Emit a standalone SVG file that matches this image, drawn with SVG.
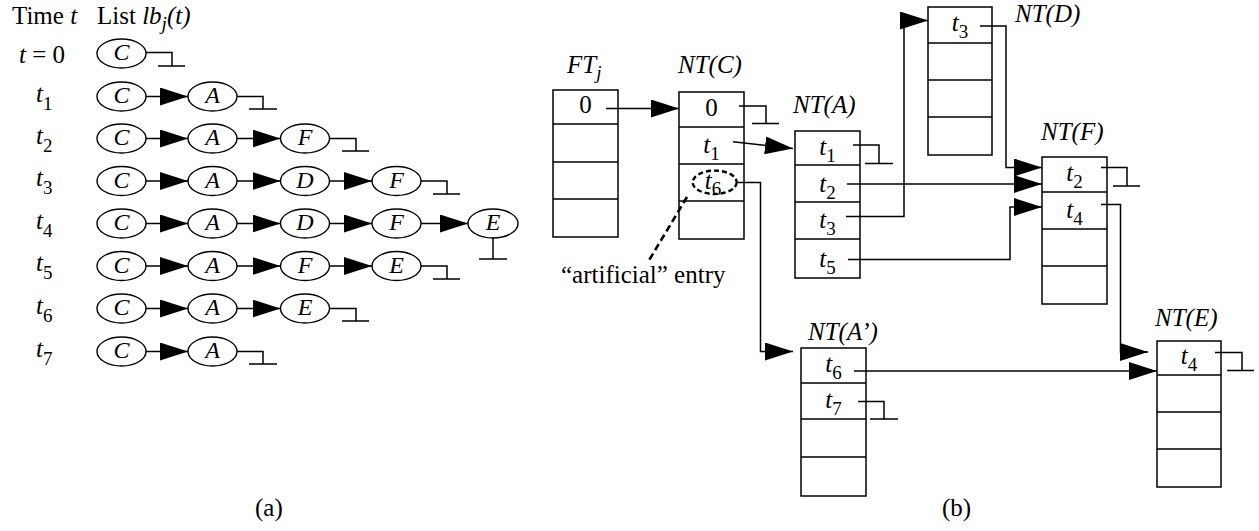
<svg xmlns="http://www.w3.org/2000/svg" width="1259" height="531" viewBox="0 0 1259 531">
<defs>
<style>
.t{font-family:"Liberation Serif","Times New Roman",serif;font-size:25px;fill:#000}
.i{font-style:italic}
.s{font-size:19px}
.m{text-anchor:middle}
.n{font-family:"Liberation Serif","Times New Roman",serif;font-size:24px;font-style:italic;text-anchor:middle;fill:#000}
.e{fill:#fff;stroke:#000;stroke-width:1.4}
.b{fill:#fff;stroke:#000;stroke-width:1.5}
.c{fill:none;stroke:#000;stroke-width:1.5}
.a{fill:none;stroke:#000;stroke-width:1.5;marker-end:url(#ah)}
.d{fill:none;stroke:#000;stroke-width:2.6;stroke-dasharray:7 4}
.de{fill:none;stroke:#000;stroke-width:2.4;stroke-dasharray:5 3}
</style>
<marker id="ah" markerUnits="userSpaceOnUse" markerWidth="30" markerHeight="20" refX="28" refY="9" orient="auto"><path d="M0,0 L28,9 L0,18 z" fill="#000"/></marker>
</defs>
<rect x="0" y="0" width="1259" height="531" fill="#fff"/>

<!-- (a) header and row labels -->
<g id="a-header">
<text class="t" x="12" y="24">Time <tspan class="i">t</tspan></text>
<text class="t" x="97" y="24">List <tspan class="i">lb</tspan><tspan class="i s" dy="6">j</tspan><tspan class="i" dy="-6">(t)</tspan></text>
</g>
<g id="a-rowlabels">
<text class="t" x="19" y="62.5"><tspan class="i">t</tspan> = 0</text>
<text class="t" x="36" y="101.5"><tspan class="i">t</tspan><tspan class="s" dy="8">1</tspan></text>
<text class="t" x="36" y="143.5"><tspan class="i">t</tspan><tspan class="s" dy="8">2</tspan></text>
<text class="t" x="36" y="186"><tspan class="i">t</tspan><tspan class="s" dy="8">3</tspan></text>
<text class="t" x="36" y="228.5"><tspan class="i">t</tspan><tspan class="s" dy="8">4</tspan></text>
<text class="t" x="36" y="271"><tspan class="i">t</tspan><tspan class="s" dy="8">5</tspan></text>
<text class="t" x="36" y="313.5"><tspan class="i">t</tspan><tspan class="s" dy="8">6</tspan></text>
<text class="t" x="36" y="356.5"><tspan class="i">t</tspan><tspan class="s" dy="8">7</tspan></text>
</g>

<!-- (a) list nodes -->
<g id="a-r0-C"><ellipse class="e" cx="121.5" cy="53.5" rx="24.5" ry="14.5"/><text class="n" x="121.5" y="60">C</text></g>

<g id="a-r1-C"><ellipse class="e" cx="121.5" cy="96.5" rx="24.5" ry="14.5"/><text class="n" x="121.5" y="103">C</text></g>
<g id="a-r1-A"><ellipse class="e" cx="212.5" cy="96.5" rx="24.5" ry="14.5"/><text class="n" x="212.5" y="103">A</text></g>

<g id="a-r2-C"><ellipse class="e" cx="121.5" cy="138.5" rx="24.5" ry="14.5"/><text class="n" x="121.5" y="145">C</text></g>
<g id="a-r2-A"><ellipse class="e" cx="212.5" cy="138.5" rx="24.5" ry="14.5"/><text class="n" x="212.5" y="145">A</text></g>
<g id="a-r2-F"><ellipse class="e" cx="305" cy="138.5" rx="24.5" ry="14.5"/><text class="n" x="305" y="145">F</text></g>

<g id="a-r3-C"><ellipse class="e" cx="121.5" cy="181" rx="24.5" ry="14.5"/><text class="n" x="121.5" y="187.5">C</text></g>
<g id="a-r3-A"><ellipse class="e" cx="212.5" cy="181" rx="24.5" ry="14.5"/><text class="n" x="212.5" y="187.5">A</text></g>
<g id="a-r3-D"><ellipse class="e" cx="305" cy="181" rx="24.5" ry="14.5"/><text class="n" x="305" y="187.5">D</text></g>
<g id="a-r3-F"><ellipse class="e" cx="396.5" cy="181" rx="24.5" ry="14.5"/><text class="n" x="396.5" y="187.5">F</text></g>

<g id="a-r4-C"><ellipse class="e" cx="121.5" cy="223.5" rx="24.5" ry="14.5"/><text class="n" x="121.5" y="230">C</text></g>
<g id="a-r4-A"><ellipse class="e" cx="212.5" cy="223.5" rx="24.5" ry="14.5"/><text class="n" x="212.5" y="230">A</text></g>
<g id="a-r4-D"><ellipse class="e" cx="305" cy="223.5" rx="24.5" ry="14.5"/><text class="n" x="305" y="230">D</text></g>
<g id="a-r4-F"><ellipse class="e" cx="396.5" cy="223.5" rx="24.5" ry="14.5"/><text class="n" x="396.5" y="230">F</text></g>
<g id="a-r4-E"><ellipse class="e" cx="493" cy="223.5" rx="25" ry="14.5"/><text class="n" x="493" y="230">E</text></g>

<g id="a-r5-C"><ellipse class="e" cx="121.5" cy="266" rx="24.5" ry="14.5"/><text class="n" x="121.5" y="272.5">C</text></g>
<g id="a-r5-A"><ellipse class="e" cx="212.5" cy="266" rx="24.5" ry="14.5"/><text class="n" x="212.5" y="272.5">A</text></g>
<g id="a-r5-F"><ellipse class="e" cx="305" cy="266" rx="24.5" ry="14.5"/><text class="n" x="305" y="272.5">F</text></g>
<g id="a-r5-E"><ellipse class="e" cx="396.5" cy="266" rx="24.5" ry="14.5"/><text class="n" x="396.5" y="272.5">E</text></g>

<g id="a-r6-C"><ellipse class="e" cx="121.5" cy="308.5" rx="24.5" ry="14.5"/><text class="n" x="121.5" y="315">C</text></g>
<g id="a-r6-A"><ellipse class="e" cx="212.5" cy="308.5" rx="24.5" ry="14.5"/><text class="n" x="212.5" y="315">A</text></g>
<g id="a-r6-E"><ellipse class="e" cx="305" cy="308.5" rx="24.5" ry="14.5"/><text class="n" x="305" y="315">E</text></g>

<g id="a-r7-C"><ellipse class="e" cx="121.5" cy="351.5" rx="24.5" ry="14.5"/><text class="n" x="121.5" y="358">C</text></g>
<g id="a-r7-A"><ellipse class="e" cx="212.5" cy="351.5" rx="24.5" ry="14.5"/><text class="n" x="212.5" y="358">A</text></g>

<!-- (b) tables -->
<g id="FTj">
<rect class="b" x="553" y="90" width="65" height="147"/>
<path class="c" d="M553 124H618M553 162H618M553 199H618"/>
<text class="t i" x="567" y="73">FT<tspan class="s" dy="6">j</tspan></text>
<text class="t m" x="585.5" y="112.5">0</text>
</g>
<g id="NT-C">
<rect class="b" x="679" y="92" width="65" height="147"/>
<path class="c" d="M679 127H744M679 164H744M679 201H744"/>
<text class="t i" x="678" y="73">NT(C)</text>
<text class="t m" x="711.5" y="115.5">0</text>
<text class="t m" x="711.5" y="152.5"><tspan class="i">t</tspan><tspan class="s" dy="7">1</tspan></text>
<text class="t m" x="713" y="189"><tspan class="i">t</tspan><tspan class="s" dy="6">6</tspan></text>
<ellipse class="de" cx="714.7" cy="182.3" rx="22" ry="11.7"/>
</g>
<g id="NT-A">
<rect class="b" x="795" y="131" width="65" height="147"/>
<path class="c" d="M795 165H860M795 202H860M795 239H860"/>
<text class="t i" x="793" y="113">NT(A)</text>
<text class="t m" x="827.5" y="154.5"><tspan class="i">t</tspan><tspan class="s" dy="7">1</tspan></text>
<text class="t m" x="827.5" y="191.5"><tspan class="i">t</tspan><tspan class="s" dy="7">2</tspan></text>
<text class="t m" x="827.5" y="227.5"><tspan class="i">t</tspan><tspan class="s" dy="7">3</tspan></text>
<text class="t m" x="827.5" y="266.5"><tspan class="i">t</tspan><tspan class="s" dy="7">5</tspan></text>
</g>
<g id="NT-D">
<rect class="b" x="928" y="7" width="64" height="148"/>
<path class="c" d="M928 43H992M928 80H992M928 117H992"/>
<text class="t i" x="1015" y="22">NT(D)</text>
<text class="t m" x="960" y="31"><tspan class="i">t</tspan><tspan class="s" dy="7">3</tspan></text>
</g>
<g id="NT-F">
<rect class="b" x="1042" y="157" width="65" height="147"/>
<path class="c" d="M1042 192H1107M1042 229H1107M1042 266H1107"/>
<text class="t i" x="1041" y="140">NT(F)</text>
<text class="t m" x="1074.5" y="180.5"><tspan class="i">t</tspan><tspan class="s" dy="7">2</tspan></text>
<text class="t m" x="1074.5" y="217.5"><tspan class="i">t</tspan><tspan class="s" dy="7">4</tspan></text>
</g>
<g id="NT-A2">
<rect class="b" x="801" y="348" width="65" height="148"/>
<path class="c" d="M801 383H866M801 419H866M801 457H866"/>
<text class="t i" x="808" y="340">NT(A’)</text>
<text class="t m" x="833.5" y="372"><tspan class="i">t</tspan><tspan class="s" dy="7">6</tspan></text>
<text class="t m" x="833.5" y="408"><tspan class="i">t</tspan><tspan class="s" dy="7">7</tspan></text>
</g>
<g id="NT-E">
<rect class="b" x="1157" y="341" width="64" height="146"/>
<path class="c" d="M1157 375H1221M1157 412H1221M1157 449H1221"/>
<text class="t i" x="1155" y="326">NT(E)</text>
<text class="t m" x="1189" y="364"><tspan class="i">t</tspan><tspan class="s" dy="7">4</tspan></text>
</g>

<g id="annotation">
<text class="t" x="561" y="283">“artificial” entry</text>
</g>
<g id="captions">
<text class="t" x="255" y="516">(a)</text>
<text class="t" x="942" y="516">(b)</text>
</g>

<!-- connectors -->
<g id="connectors">
<path class="a" d="M146 96.5H188"/>
<path class="a" d="M146 138.5H188"/><path class="a" d="M237 138.5H280.5"/>
<path class="a" d="M146 181H188"/><path class="a" d="M237 181H280.5"/><path class="a" d="M329.5 181H372"/>
<path class="a" d="M146 223.5H188"/><path class="a" d="M237 223.5H280.5"/><path class="a" d="M329.5 223.5H372"/><path class="a" d="M421 223.5H468"/>
<path class="a" d="M146 266H188"/><path class="a" d="M237 266H280.5"/><path class="a" d="M329.5 266H372"/>
<path class="a" d="M146 308.5H188"/><path class="a" d="M237 308.5H280.5"/>
<path class="a" d="M146 351.5H188"/>
<path class="c" d="M146 52.5H172V66M158 66H185"/>
<path class="c" d="M237 96.5H263V109M249 109H277"/>
<path class="c" d="M329.5 138.5H356V151M342 151H369"/>
<path class="c" d="M421 181H447V194M433 194H460"/>
<path class="c" d="M493 238V259M479 259H507"/>
<path class="c" d="M421 266H447V279M433 279H460"/>
<path class="c" d="M329.5 308.5H356V321M342 321H369"/>
<path class="c" d="M237 351.5H263V364M249 364H277"/>
<path class="a" d="M606 108.5H679"/>
<path class="a" d="M733 141.7L793 148.5"/>
<path class="a" d="M738 182.5H760.5V351.5H793"/>
<path class="a" d="M847 184H1042"/>
<path class="a" d="M846 216.5H904V20.5H928"/>
<path class="a" d="M848 259.5H1010V207H1042"/>
<path class="a" d="M980 26H1006V167.5H1042"/>
<path class="a" d="M1101 204.5H1120.5V352H1148"/>
<path class="a" d="M854 371H1157"/>
<path class="c" d="M739 106H766V123.5M752 123.5H779"/>
<path class="c" d="M853 145H879V163.5M865 163.5H893"/>
<path class="c" d="M1101 167.5H1127V186M1113 186H1140"/>
<path class="c" d="M858 401.5H884V419M870 419H898"/>
<path class="c" d="M1215 352.5H1242V370.5M1227 370.5H1254"/>
<path class="d" d="M687 197L648 262"/>
</g>
</svg>
